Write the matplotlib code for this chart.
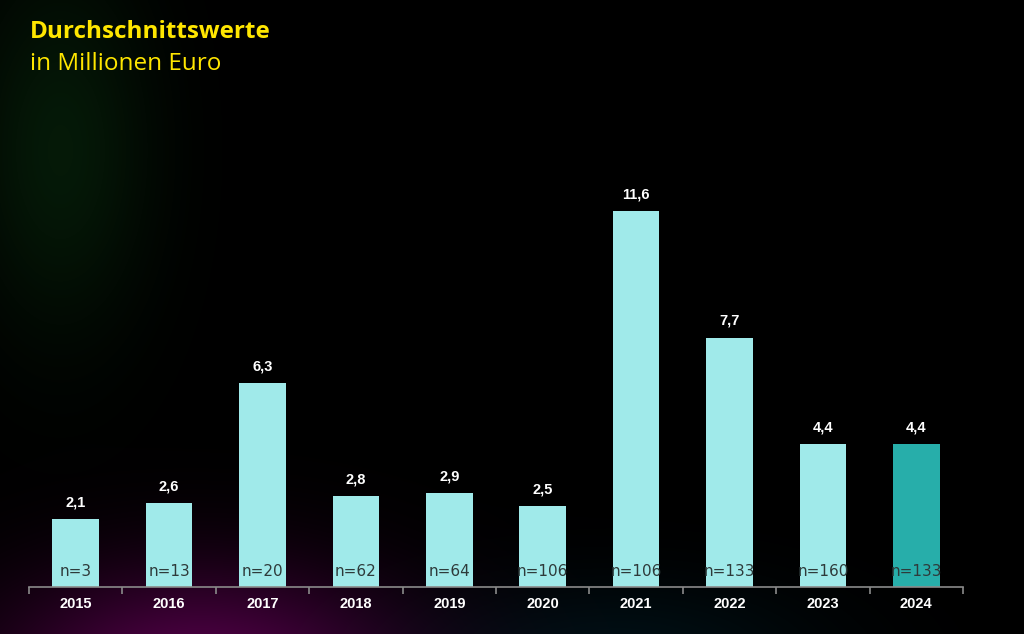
import numpy as np
import matplotlib
matplotlib.use("Agg")
import matplotlib.pyplot as plt

# Data
years = ["2015", "2016", "2017", "2018", "2019", "2020", "2021", "2022", "2023", "2024"]
values = [2.1, 2.6, 6.3, 2.8, 2.9, 2.5, 11.6, 7.7, 4.4, 4.4]
counts = [3, 13, 20, 62, 64, 106, 106, 133, 160, 133]

LIGHT = "#A0EAEA"
DARK = "#27AEAA"
YELLOW = "#FFE600"

W, H = 1024, 634
fig = plt.figure(figsize=(W / 100, H / 100), dpi=100)
fig.patch.set_facecolor("black")

# Background glow (decoration only)
bg = fig.add_axes([0, 0, 1, 1])
yy, xx = np.mgrid[0:H, 0:W]
def blob(cx, cy, sx, sy):
    return np.exp(-(((xx - cx) / sx) ** 2 + ((yy - cy) / sy) ** 2))
img = np.zeros((H, W, 3))
g = blob(60, 150, 90, 180)
m = blob(200, 680, 200, 110)
t = blob(620, 660, 200, 80)
img[..., 0] += 0.02 * g + 0.32 * m
img[..., 1] += 0.10 * g + 0.06 * t
img[..., 2] += 0.03 * g + 0.28 * m + 0.08 * t
bg.imshow(np.clip(img, 0, 1), aspect="auto", extent=(0, W, H, 0))
bg.axis("off")

ax = fig.add_axes([29 / W, (H - 587) / H, 934 / W, 487 / H])
ax.set_facecolor("none")
x = np.arange(len(years))
colors = [LIGHT] * (len(years) - 1) + [DARK]
bars = ax.bar(x, values, width=0.5, color=colors, zorder=2)

ax.set_xlim(-0.5, len(years) - 0.5)
ax.set_ylim(0, 15.03)

for i, (v, n) in enumerate(zip(values, counts)):
    ax.text(i, v + 0.3, f"{v:.1f}".replace(".", ","), ha="center", va="bottom",
            color="white", fontsize=10.5, fontweight="bold", family="Liberation Sans")
    ax.text(i, 0.25, f"n={n}", ha="center", va="bottom", color="#2E3A3A",
            fontsize=11, family="DejaVu Sans")

for s in ["top", "right", "left"]:
    ax.spines[s].set_visible(False)
ax.spines["bottom"].set_color("#8A8A8A")
ax.spines["bottom"].set_linewidth(1.2)
ax.set_yticks([])
ax.set_xticks(x)
ax.set_xticklabels(years, color="white", fontsize=10.5, fontweight="bold", family="Liberation Sans")
ax.tick_params(axis="x", which="major", length=0, pad=7)
ax.set_xticks(np.arange(-0.5, len(years)), minor=True)
ax.tick_params(axis="x", which="minor", length=5, color="#8A8A8A", width=1.2)

fig.text(30 / W, 1 - 32 / H, "Durchschnittswerte", color=YELLOW, fontsize=17.5,
         fontweight="bold", va="center", ha="left", family="Open Sans")
fig.text(30 / W, 1 - 64 / H, "in Millionen Euro", color=YELLOW, fontsize=17.5,
         va="center", ha="left", family="Open Sans")

fig.savefig("out.png", dpi=100, facecolor="black")
